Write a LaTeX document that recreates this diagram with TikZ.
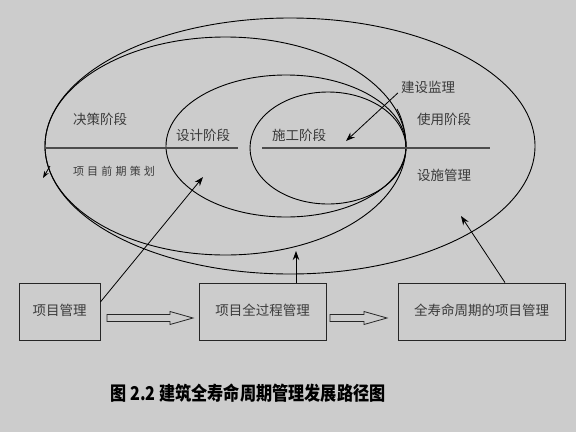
\documentclass[tikz,border=0pt]{standalone}
\usepackage{fontspec}
\newfontfamily\cjk{Noto Sans CJK SC}
\usetikzlibrary{arrows.meta,calc}
\definecolor{bggray}{RGB}{204,204,204}
\definecolor{inkgray}{RGB}{58,58,58}
\newcommand\cgap{\hspace{3.2pt}}
\tikzset{
  stage/.style={font=\cjk\fontsize{13.5}{14}\selectfont, text=inkgray, inner sep=0pt,
    text height=0.88em, text depth=0.12em},
  mgmtbox/.style={stage, draw=black!85, line width=0.8pt, minimum height=57pt},
  hollow/.style={draw=black!85, fill=bggray, line width=0.8pt, line join=miter},
  pointer/.style={-{Stealth[length=9pt,width=6.5pt]}, line width=0.8pt},
  divider/.style={line width=1.6pt, black!70},
  caption/.style={font=\cjk\bfseries\fontsize{19}{20}\selectfont, xscale=0.85, inner sep=0pt}
}
\begin{document}
\begin{tikzpicture}[x=1pt, y=-1pt]
    % Background
    \fill[bggray] (0,0) rectangle (576,432);
    \useasboundingbox (0,0) rectangle (576,432);

    % Nested life-cycle ellipses
    \foreach \cx/\cy/\rx/\ry in {290/146/245/128, 225.5/146/180.5/109, 286/146/120/71, 328/148/78/56} {
        \draw[line width=0.9pt] (\cx,\cy) ellipse [x radius=\rx pt, y radius=\ry pt];
    }
    \draw[line width=0.9pt] (397,109) .. controls (403,120) and (406,134) .. (406,148);
    \draw[-{Stealth[length=7pt,width=5pt]}, line width=0.8pt] (50,166) -- (43,178);

    % Stage divider
    \draw[divider] (45,148) -- (238,148);
    \draw[divider] (262,148) -- (490,148);

    % Stage labels
    \node[stage] (jc) at (100,121) {决策阶段};
    \node[stage, font=\cjk\fontsize{11}{12}\selectfont] (qq) at (114,172) {项\cgap 目\cgap 前\cgap 期\cgap 策\cgap 划};
    \node[stage] (sj) at (203,137) {设计阶段};
    \node[stage] (sg) at (299,137) {施工阶段};
    \node[stage] (jl) at (428,89) {建设监理};
    \node[stage] (sy) at (444,121) {使用阶段};
    \node[stage] (ss) at (444,177) {设施管理};

    % Management boxes
    \node[mgmtbox, minimum width=81pt] (pm) at (59.5,311.5) {项目管理};
    \node[mgmtbox, minimum width=127pt] (pfull) at (262.5,311.5) {项目全过程管理};
    \node[mgmtbox, minimum width=167pt] (plife) at (481.5,311.5) {全寿命周期的项目管理};

    % Hollow arrows between boxes
    \foreach \xa/\xb in {107/193, 330/387} {
        \draw[hollow] (\xa,314.5) -- (\xb-23,314.5) -- (\xb-23,311.5) -- (\xb,318)
            -- (\xb-23,324.5) -- (\xb-23,321.5) -- (\xa,321.5) -- cycle;
    }

    % Pointers into the ellipses
    \coordinate (dsgn) at (203,177);
    \coordinate (cons) at (346,141);
    \coordinate (outer) at (296,251);
    \coordinate (life) at (461,216);
    \draw[pointer] ([yshift=9.5pt]pm.east) -- (dsgn);
    \draw[pointer] ([xshift=-3pt,yshift=-4pt]jl.west) -- (cons);
    \draw[pointer] (outer |- pfull.north) -- (outer);
    \draw[pointer] ([xshift=23.5pt]plife.north) -- (life);

    % Caption
    \node[caption] (cap) at (248,393) {图 2.2 建筑全寿命周期管理发展路径图};
\end{tikzpicture}
\end{document}
